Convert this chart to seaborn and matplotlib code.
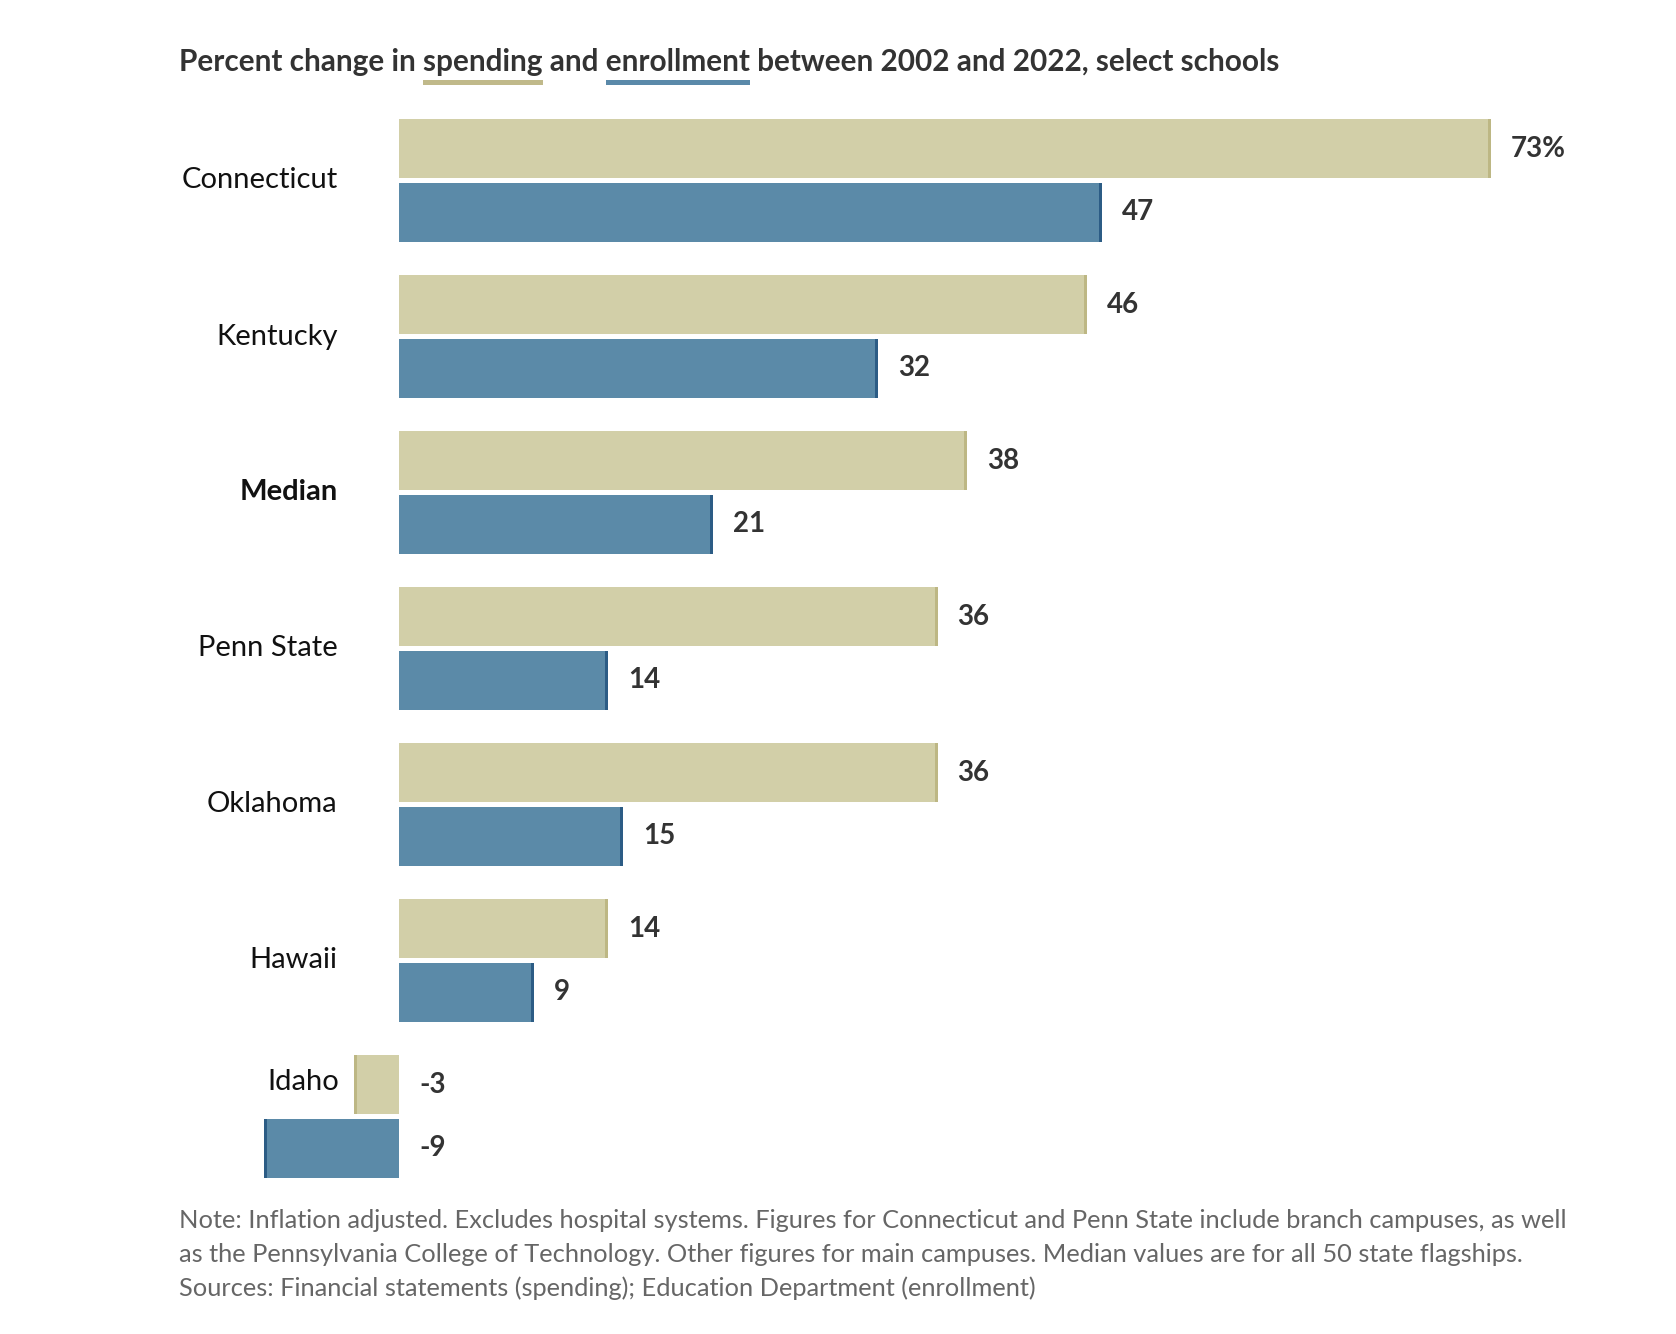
import matplotlib
matplotlib.use("Agg")
import matplotlib.pyplot as plt
from matplotlib.patches import Rectangle
import seaborn as sns
import pandas as pd

schools = ["Connecticut", "Kentucky", "Median", "Penn State", "Oklahoma", "Hawaii", "Idaho"]
spending = [73, 46, 38, 36, 36, 14, -3]
enrollment = [47, 32, 21, 14, 15, 9, -9]
metrics = ["spending", "enrollment"]

title_parts = ["Percent change in ", "spending", " and ", "enrollment", " between 2002 and 2022, select schools"]
note_lines = [
    "Note: Inflation adjusted. Excludes hospital systems. Figures for Connecticut and Penn State include branch campuses, as well",
    "as the Pennsylvania College of Technology. Other figures for main campuses. Median values are for all 50 state flagships.",
    "Sources: Financial statements (spending); Education Department (enrollment)",
]

fill_colors = {"spending": "#D2CFA8", "enrollment": "#5B8AA8"}
cap_colors = {"spending": "#BDB784", "enrollment": "#2C5C85"}
line_colors = {"spending": "#C0B98A", "enrollment": "#5A89A9"}

df = pd.DataFrame({
    "school": schools * 2,
    "metric": ["spending"] * len(schools) + ["enrollment"] * len(schools),
    "value": spending + enrollment,
})

sns.set_theme(style="white")
FAM = ["Lato", "DejaVu Sans"]
plt.rcParams["font.family"] = FAM

W, H = 1676, 1334
fig = plt.figure(figsize=(W / 100, H / 100), dpi=100)
fig.patch.set_facecolor("white")

ppu = 14.96
zero_px = 399
xmin, xmax = -12, 80
left = (zero_px + xmin * ppu) / W
width = (xmax - xmin) * ppu / W
top_px, bot_px = 102.5, 1194.5
ax = fig.add_axes([left, 1 - bot_px / H, width, (bot_px - top_px) / H])

sns.barplot(data=df, y="school", x="value", hue="metric", hue_order=metrics,
            order=schools, orient="h", palette=fill_colors, width=0.82, gap=0.09,
            saturation=1, linewidth=0, legend=False, ax=ax)

ax.set_xlim(xmin, xmax)
ax.set_ylim(len(schools) - 0.5, -0.5)
ax.set_axis_off()

cap_w = 3 / ppu
pad = 20 / ppu
for metric, cont in zip(metrics, ax.containers):
    vals = df[df.metric == metric]["value"].tolist()
    for i, bar in enumerate(cont):
        v = vals[i]
        y0, h = bar.get_y(), bar.get_height()
        end = bar.get_x() + bar.get_width()
        x_cap = end - cap_w if v >= 0 else end
        ax.add_patch(Rectangle((x_cap, y0), cap_w, h,
                               facecolor=cap_colors[metric], linewidth=0))
        label = f"{v}%" if (metric == "spending" and i == 0) else f"{v}"
        ax.text(max(v, 0) + pad, y0 + h / 2, label, ha="left", va="center",
                fontsize=20, fontweight="bold", color="#333333")

label_x = -4.1
spend_bars = ax.containers[0]
for i, s in enumerate(schools):
    if s == "Idaho":
        b = spend_bars[i]
        y = b.get_y() + b.get_height() / 2 - 0.015
        x = -3 - 15 / ppu
    else:
        y = i
        x = label_x
    ax.text(x, y, s, ha="right", va="center", fontsize=21,
            fontweight="bold" if s == "Median" else "normal", color="#111111")

# Title with coloured underlines
tx, ty = 179 / W, 1 - 62 / H
title_kw = dict(fontsize=21.4, fontweight="bold", color="#333333", family=FAM)
full_title = "".join(title_parts)
fig.text(tx, ty, full_title, ha="left", va="center", **title_kw)
renderer = fig.canvas.get_renderer()

def text_w(s):
    t = fig.text(0, 0, s, **title_kw)
    w = t.get_window_extent(renderer).width
    t.remove()
    return w

prefix = ""
for part in title_parts:
    if part in metrics:
        end_w = text_w(prefix + part)
        start_w = end_w - text_w(part)
        x0 = 179 + start_w
        x1 = 179 + end_w
        fig.add_artist(Rectangle((x0 / W, 1 - 85 / H), (x1 - x0) / W, 5 / H,
                                 transform=fig.transFigure, facecolor=line_colors[part],
                                 linewidth=0))
    prefix += part

for k, line in enumerate(note_lines):
    fig.text(179 / W, 1 - (1220 + 34 * k) / H, line, ha="left", va="center",
             fontsize=18.3, color="#666666")

fig.savefig("out.png", dpi=100, facecolor="white")
